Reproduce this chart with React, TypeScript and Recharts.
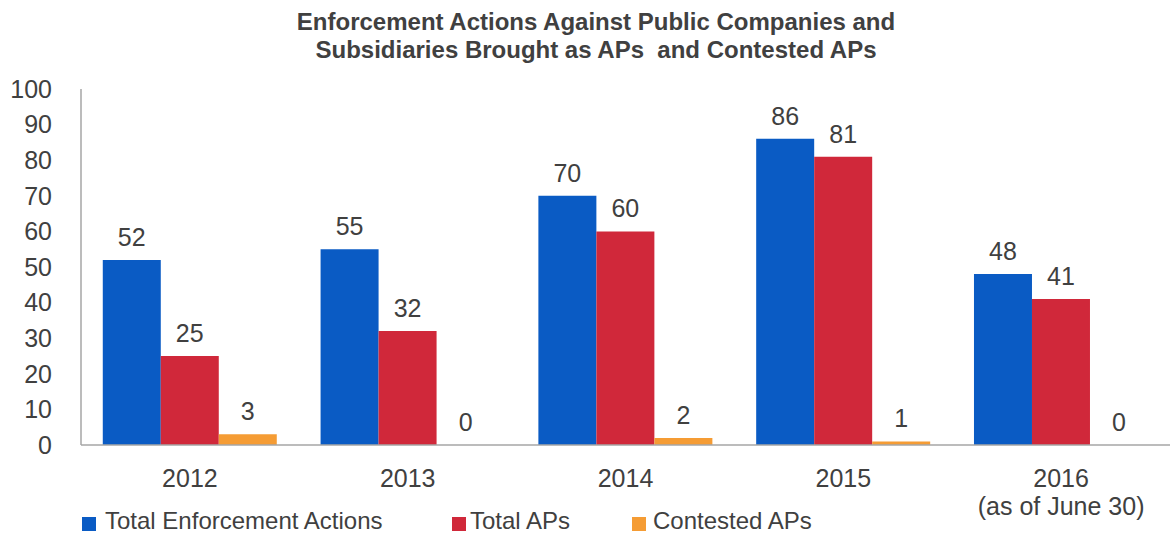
import React from "react";
import { BarChart, Bar, XAxis, YAxis, LabelList, Legend } from "recharts";

const categories = ["2012", "2013", "2014", "2015", "2016"];
const categorySubLabels = ["", "", "", "", "(as of June 30)"];
const totalEnforcementActions = [52, 55, 70, 86, 48];
const totalAPs = [25, 32, 60, 81, 41];
const contestedAPs = [3, 0, 2, 1, 0];
const yTicks = [0, 10, 20, 30, 40, 50, 60, 70, 80, 90, 100];

const seriesNames = ["Total Enforcement Actions", "Total APs", "Contested APs"];
const colors = ["#0A5BC4", "#D0283A", "#F59C34"];

const data = categories.map((c, i) => ({
  year: c,
  sub: categorySubLabels[i],
  tea: totalEnforcementActions[i],
  aps: totalAPs[i],
  cap: contestedAPs[i],
}));

const FONT = "'Liberation Sans', Arial, sans-serif";
const TEXT = "#404040";

const XTick = (props: any) => {
  const { x, y, payload, index } = props;
  const sub = categorySubLabels[index] ?? "";
  return (
    <g>
      <text x={x} y={y + 42} textAnchor="middle" fontSize={25} fill={TEXT} fontFamily={FONT}>
        {payload.value}
      </text>
      {sub ? (
        <text x={x} y={y + 70} textAnchor="middle" fontSize={25} fill={TEXT} fontFamily={FONT}>
          {sub}
        </text>
      ) : null}
    </g>
  );
};

const renderValueLabel = (p: any) => {
  const { x, y, width, value } = p;
  return (
    <text
      x={Number(x) + Number(width) / 2}
      y={Number(y) - 14}
      textAnchor="middle"
      fontSize={25}
      fill={TEXT}
      fontFamily={FONT}
    >
      {value}
    </text>
  );
};

const legendPos = [
  { sq: 82, tx: 105 },
  { sq: 452, tx: 470 },
  { sq: 632, tx: 653 },
];

const LegendContent = () => (
  <div style={{ position: "relative", width: 1172, height: 30 }}>
    {seriesNames.map((n, i) => (
      <React.Fragment key={n}>
        <div
          style={{
            position: "absolute",
            left: legendPos[i].sq,
            top: 14,
            width: 14,
            height: 14,
            background: colors[i],
          }}
        />
        <div
          style={{
            position: "absolute",
            left: legendPos[i].tx,
            top: 5,
            fontSize: 24,
            lineHeight: "26px",
            color: TEXT,
            fontFamily: FONT,
            whiteSpace: "nowrap",
          }}
        >
          {n}
        </div>
      </React.Fragment>
    ))}
  </div>
);

export default function App() {
  return (
    <div style={{ position: "absolute", left: 0, top: 0, width: 1172, height: 533, background: "#fff", fontFamily: FONT, overflow: "hidden" }}>
      <div
        style={{
          position: "absolute",
          left: 0,
          top: 8,
          width: 1192,
          textAlign: "center",
          fontSize: 24,
          lineHeight: "28px",
          fontWeight: "bold",
          color: TEXT,
          fontFamily: FONT,
        }}
      >
        Enforcement Actions Against Public Companies and
        <br />
        Subsidiaries Brought as APs&nbsp; and Contested APs
      </div>
      <BarChart
        width={1172}
        height={533}
        data={data}
        margin={{ top: 89, right: 2, left: 21, bottom: 0 }}
        barCategoryGap="10%"
        barGap={0}
      >
        <XAxis
          dataKey="year"
          height={58}
          tickLine={false}
          tickSize={0}
          tickMargin={0}
          axisLine={{ stroke: "#A6A6A6", strokeWidth: 1.5 }}
          tick={<XTick />}
          interval={0}
        />
        <YAxis
          width={60}
          domain={[0, 100]}
          ticks={yTicks}
          interval={0}
          tickLine={false}
          tickSize={0}
          tickMargin={29}
          axisLine={{ stroke: "#A6A6A6", strokeWidth: 1.5 }}
          tick={{ fontSize: 25, fill: TEXT, fontFamily: FONT }}
        />
        <Legend
          content={<LegendContent />}
          wrapperStyle={{ position: "absolute", left: 0, top: 503, width: 1172, height: 30 }}
        />
        <Bar dataKey="tea" name={seriesNames[0]} fill={colors[0]} isAnimationActive={false} minPointSize={0.01}>
          <LabelList dataKey="tea" content={renderValueLabel} />
        </Bar>
        <Bar dataKey="aps" name={seriesNames[1]} fill={colors[1]} isAnimationActive={false} minPointSize={0.01}>
          <LabelList dataKey="aps" content={renderValueLabel} />
        </Bar>
        <Bar dataKey="cap" name={seriesNames[2]} fill={colors[2]} isAnimationActive={false} minPointSize={0.01}>
          <LabelList dataKey="cap" content={renderValueLabel} />
        </Bar>
      </BarChart>
    </div>
  );
}
